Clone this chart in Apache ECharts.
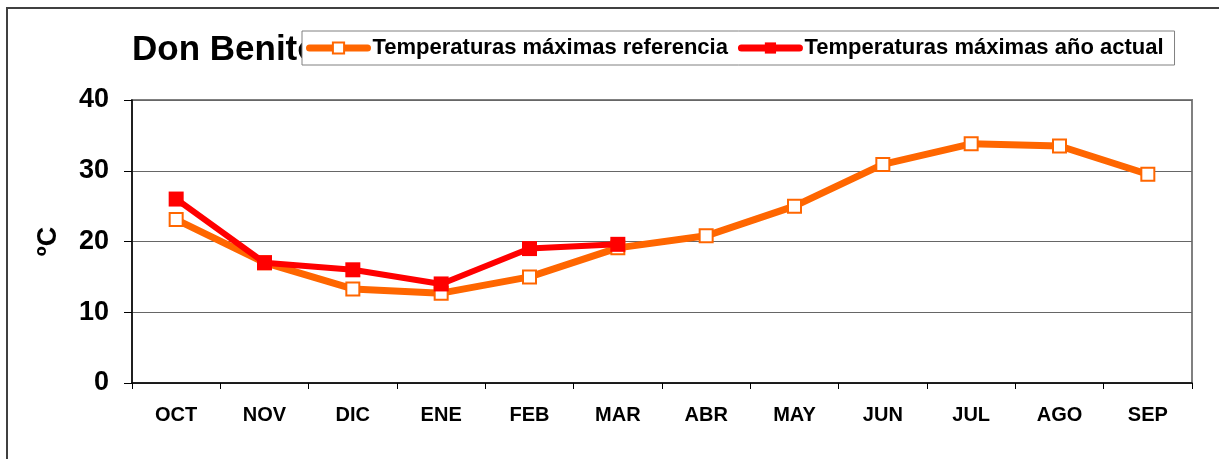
<!DOCTYPE html>
<html>
<head>
<meta charset="utf-8">
<script src="https://cdn.jsdelivr.net/npm/echarts@6/dist/echarts.min.js"></script>
<style>
html,body{margin:0;padding:0;background:#fff;}
#chart{width:1219px;height:459px;}
</style>
</head>
<body>
<div id="chart"></div>
<script>
var titleText = 'Don Benito';
var yAxisName = 'ºC';
var months = ['OCT','NOV','DIC','ENE','FEB','MAR','ABR','MAY','JUN','JUL','AGO','SEP'];
var refName = 'Temperaturas máximas referencia';
var refValues = [23.1, 17.0, 13.3, 12.7, 15.0, 19.1, 20.8, 25.0, 30.9, 33.8, 33.5, 29.5];
var actName = 'Temperaturas máximas año actual';
var actValues = [26.0, 17.0, 16.0, 14.0, 19.0, 19.6];
var yMin = 0, yMax = 40, yStep = 10;

var font = 'Liberation Sans, Arial, sans-serif';
var chart = echarts.init(document.getElementById('chart'), null, {renderer: 'canvas'});
chart.setOption({
  animation: false,
  backgroundColor: '#fff',
  graphic: [{
    type: 'rect', z: 0, silent: true,
    shape: {x: 7, y: 8, width: 1400, height: 600},
    style: {fill: 'none', stroke: '#404040', lineWidth: 2}
  }],
  title: {
    text: titleText, left: 127, top: 28,
    textStyle: {fontFamily: font, fontSize: 35, fontWeight: 'bold', color: '#000'}
  },
  legend: {
    left: 302, top: 31, z: 10,
    backgroundColor: '#fff', borderColor: '#808080', borderWidth: 1,
    padding: [6, 11, 6, 4],
    itemWidth: 58, itemHeight: 14, itemGap: 10,
    textStyle: {fontFamily: font, fontSize: 22, fontWeight: 'bold', color: '#000'},
    data: [
      {name: refName, lineStyle: {width: 7, color: '#FF6600', cap: 'round'}, itemStyle: {color: '#fff', borderColor: '#FF6600', borderWidth: 2}},
      {name: actName, lineStyle: {width: 7, color: '#FF0000', cap: 'round'}, itemStyle: {color: '#FF0000'}}
    ]
  },
  grid: {left: 132, right: 27, top: 100, bottom: 76, show: true, borderColor: '#808080', borderWidth: 2, backgroundColor: 'transparent'},
  xAxis: {
    type: 'category', data: months, boundaryGap: true,
    axisLine: {lineStyle: {color: '#000', width: 1.5}},
    axisTick: {show: true, length: 6, inside: false, lineStyle: {color: '#000'}},
    axisLabel: {margin: 22, fontFamily: font, fontSize: 20, fontWeight: 'bold', color: '#000', interval: 0}
  },
  yAxis: {
    type: 'value', min: yMin, max: yMax, interval: yStep,
    name: yAxisName, nameLocation: 'middle', nameGap: 70, nameRotate: 90,
    nameTextStyle: {fontFamily: font, fontSize: 27, fontWeight: 'bold', color: '#000'},
    axisLine: {show: true, lineStyle: {color: '#000', width: 1.5}},
    axisTick: {show: true, length: 8, lineStyle: {color: '#000'}},
    axisLabel: {margin: 23, fontFamily: font, fontSize: 27, fontWeight: 'bold', color: '#000'},
    splitLine: {show: true, lineStyle: {color: '#666', width: 1}}
  },
  series: [{
    name: refName, type: 'line', data: refValues, z: 2,
    symbol: 'rect', symbolSize: 13, showAllSymbol: true,
    lineStyle: {color: '#FF6600', width: 7},
    itemStyle: {color: '#fff', borderColor: '#FF6600', borderWidth: 2},
    emphasis: {disabled: true}
  }, {
    name: actName, type: 'line', data: actValues, z: 3,
    symbol: 'rect', symbolSize: 15, showAllSymbol: true,
    lineStyle: {color: '#FF0000', width: 6},
    itemStyle: {color: '#FF0000', borderColor: '#FF0000', borderWidth: 0},
    emphasis: {disabled: true}
  }]
});
</script>
</body>
</html>
